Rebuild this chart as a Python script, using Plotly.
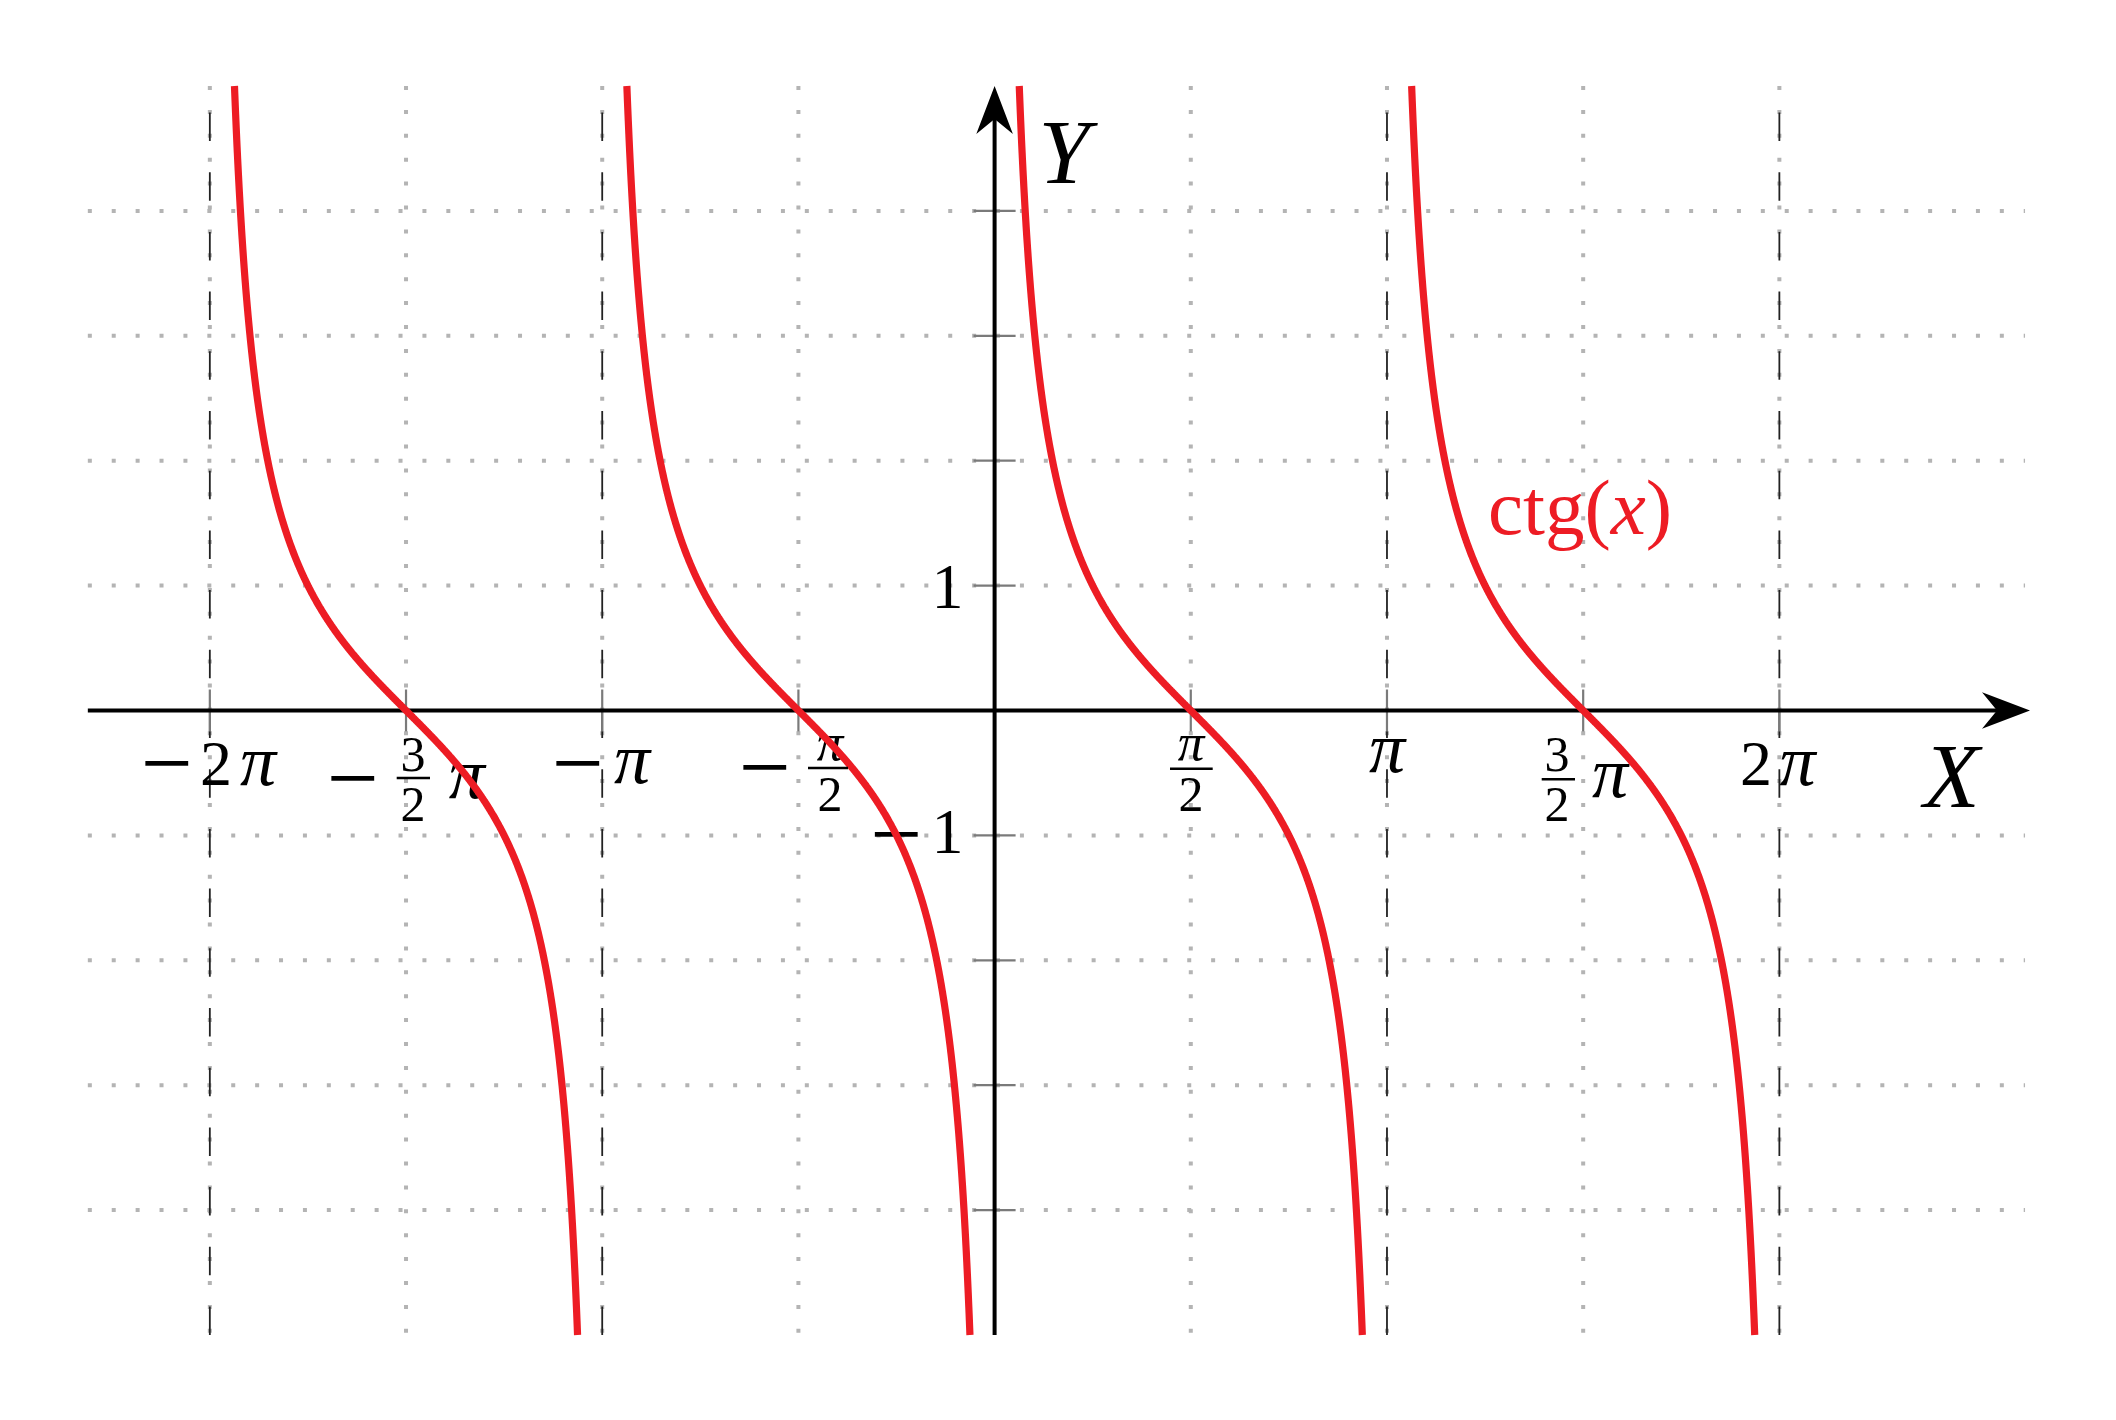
import numpy as np
import plotly.graph_objects as go

PAGE_W, PAGE_H = 2116, 1420
OFF = 8                      # default page body margin
W, H = PAGE_W - 2 * OFF, PAGE_H - 2 * OFF
X0, Y0, U = 994.6, 710.5, 124.9   # page-pixel position of the origin, pixels per unit
PI = np.pi

# ---- chart content ----
branch_starts = [-2 * PI, -PI, 0.0, PI]          # ctg(x) branches (k*pi, (k+1)*pi)
y_clip = 5.0
x_extent = [-7.26, 8.25]
y_extent = [-5.0, 5.0]
v_grid = [-2 * PI, -1.5 * PI, -PI, -0.5 * PI, 0.5 * PI, PI, 1.5 * PI, 2 * PI]
major_lines = [-2 * PI, -PI, PI, 2 * PI]
h_grid = [-4, -3, -2, -1, 1, 2, 3, 4]
curve_label = "ctg(<i>x</i>)"

RED = "#ed1c24"
GRID = "#b4b4b4"
TICK = "#7a7a7a"
SERIF = "Liberation Serif"


def px2x(px):
    return (px - X0) / U


def py2y(py):
    return (Y0 - py) / U


fig = go.Figure()

# dotted grid
for xv in v_grid:
    fig.add_trace(go.Scatter(x=[xv, xv], y=[y_extent[1], y_extent[0]], mode="lines",
                             line=dict(color=GRID, width=4, dash="4px,19.9px"), hoverinfo="skip"))
for yv in h_grid:
    fig.add_trace(go.Scatter(x=[x_extent[0], x_extent[1]], y=[yv, yv], mode="lines",
                             line=dict(color=GRID, width=4, dash="4px,19.9px"), hoverinfo="skip"))
# dark dashed lines at multiples of pi
for xv in major_lines:
    fig.add_trace(go.Scatter(x=[xv, xv], y=[y_extent[0], y_extent[1]], mode="lines",
                             line=dict(color="#222222", width=1.8, dash="28.5px,31.2px"), hoverinfo="skip"))

# ticks
tl = 21 / U
for xv in v_grid:
    fig.add_trace(go.Scatter(x=[xv, xv], y=[-tl, tl], mode="lines",
                             line=dict(color=TICK, width=2.2), hoverinfo="skip"))
for yv in h_grid:
    fig.add_trace(go.Scatter(x=[-tl, tl], y=[yv, yv], mode="lines",
                             line=dict(color=TICK, width=2.2), hoverinfo="skip"))

# axes
x_tip = px2x(2030)
y_tip = y_extent[1]
alen, awid, anotch = 48 / U, 18.3 / U, 33 / U
fig.add_trace(go.Scatter(x=[x_extent[0], x_tip - anotch], y=[0, 0], mode="lines",
                         line=dict(color="black", width=4), hoverinfo="skip"))
fig.add_trace(go.Scatter(x=[0, 0], y=[y_extent[0], y_tip - anotch], mode="lines",
                         line=dict(color="black", width=4), hoverinfo="skip"))
fig.add_shape(type="path", xref="x", yref="y", fillcolor="black", line=dict(width=0),
              path=(f"M {x_tip},0 L {x_tip - alen},{awid} L {x_tip - anotch},0 "
                    f"L {x_tip - alen},{-awid} Z"))
fig.add_shape(type="path", xref="x", yref="y", fillcolor="black", line=dict(width=0),
              path=(f"M 0,{y_tip} L {awid},{y_tip - alen} L 0,{y_tip - anotch} "
                    f"L {-awid},{y_tip - alen} Z"))

# ---- labels (pixel layout, page coordinates) ----
FS, FFS, PFS, MFS = 64, 50, 72, 92
M_AX = 0.33  # minus-sign centre height in em
labels = []  # (text, cx, baseline, size, color)


def lab(text, cx, base, fs, color="black"):
    labels.append((text, cx, base, fs, color))


def minus(cx, cy):
    lab("\u2212", cx, cy + M_AX * MFS, MFS)


# -2pi
minus(167, 764); lab("2", 216, 785, FS); lab("<i>π</i>", 258, 785, PFS)
# -3/2 pi
minus(353, 779); lab("3", 413, 771, FFS); lab("2", 413, 821, FFS); lab("<i>π</i>", 466.7, 798, PFS)
# -pi
minus(578, 764); lab("<i>π</i>", 632, 783, PFS)
# -pi/2
minus(765, 768); lab("<i>π</i>", 830, 760, 53); lab("2", 830, 811, FFS)
# pi/2
lab("<i>π</i>", 1191, 760, 53); lab("2", 1191, 811, FFS)
# pi
lab("<i>π</i>", 1387, 772, PFS)
# 3/2 pi
lab("3", 1557, 771, FFS); lab("2", 1557, 821, FFS); lab("<i>π</i>", 1610, 797, PFS)
# 2pi
lab("2", 1756, 785, FS); lab("<i>π</i>", 1797.5, 785, PFS)
# y labels
lab("1", 947.5, 608, FS)
minus(896.5, 834.7); lab("1", 947.5, 853, FS)
# axis names
lab("<i>X</i>", 1951.5, 806.7, 92)
lab("<i>Y</i>", 1064, 183.3, 92)
# curve name
lab(curve_label, 1580, 534, 79, RED)

for text, cx, base, fs, color in labels:
    fig.add_trace(go.Scatter(x=[px2x(cx)], y=[py2y(base - 0.25 * fs)], mode="text",
                             text=[text], textposition="middle center",
                             textfont=dict(family=SERIF, size=fs, color=color), hoverinfo="skip"))

# fraction bars (pixel layout)
bars = [(396.7, 430, 778), (808, 848, 768), (1170, 1212.7, 768.7), (1541.7, 1575, 779.3)]
for x1, x2, yb in bars:
    fig.add_shape(type="line", xref="x", yref="y", x0=px2x(x1), x1=px2x(x2),
                  y0=py2y(yb), y1=py2y(yb), line=dict(color="black", width=2.6))

# ---- ctg(x) curve ----
d = np.arctan(1.0 / y_clip)
for a in branch_starts:
    xs = np.linspace(a + d, a + PI - d, 1200)
    ys = 1.0 / np.tan(xs)
    fig.add_trace(go.Scatter(x=xs, y=ys, mode="lines",
                             line=dict(color=RED, width=7.2, simplify=False),
                             hoverinfo="skip"))

fig.update_layout(
    width=W, height=H, margin=dict(l=0, r=0, t=0, b=0),
    paper_bgcolor="white", plot_bgcolor="white", showlegend=False,
    xaxis=dict(range=[px2x(OFF), px2x(OFF + W)], visible=False, fixedrange=True),
    yaxis=dict(range=[py2y(OFF + H), py2y(OFF)], visible=False, fixedrange=True),
)
fig.write_html("out.html")
